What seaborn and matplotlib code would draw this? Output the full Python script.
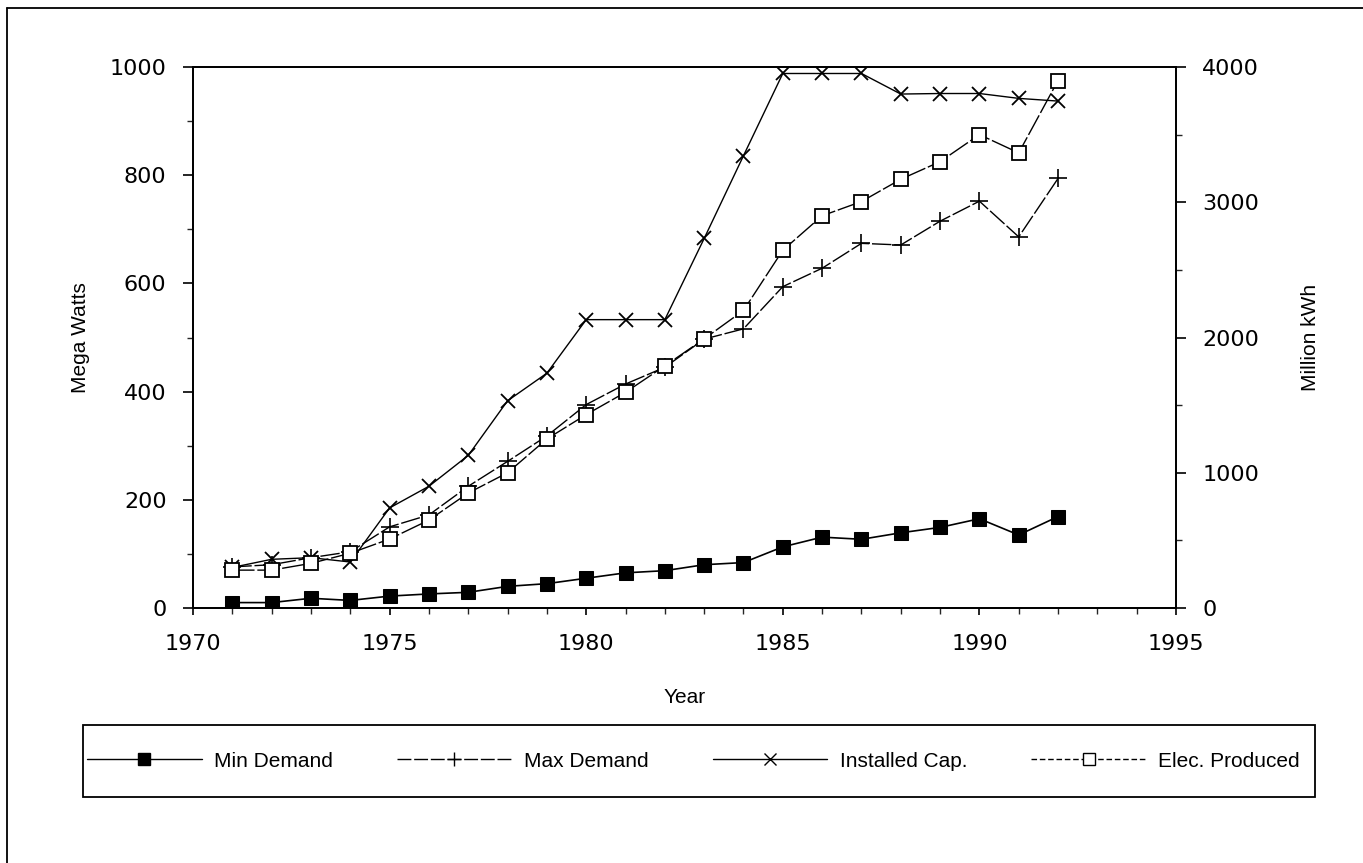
import matplotlib
matplotlib.use("Agg")
import matplotlib.pyplot as plt
import seaborn as sns
import pandas as pd
from matplotlib.ticker import MultipleLocator
from matplotlib.lines import Line2D
from matplotlib.patches import Rectangle

# data
years = list(range(1971, 1993))
min_demand = [10, 10, 18, 14, 22, 26, 29, 40, 45, 55, 65, 69, 80, 84, 113, 131, 127, 139, 149, 165, 135, 169]
max_demand = [76, 80, 93, 104, 150, 172, 225, 271, 318, 376, 414, 445, 497, 516, 594, 628, 674, 671, 715, 752, 686, 794]
installed_cap = [75, 90, 93, 85, 185, 225, 282, 383, 434, 533, 533, 533, 683, 836, 988, 988, 988, 950, 951, 951, 942, 937]
elec_produced = [280, 280, 330, 405, 510, 650, 850, 1000, 1250, 1430, 1595, 1790, 1990, 2200, 2645, 2900,
                 3005, 3170, 3300, 3500, 3365, 3900]

df = pd.DataFrame({"year": years, "min": min_demand, "max": max_demand,
                   "cap": installed_cap, "elec": elec_produced})

sns.set_theme(style="ticks")
plt.rcParams["font.family"] = ["Liberation Sans", "DejaVu Sans"]
plt.rcParams["text.color"] = "black"
plt.rcParams["axes.labelcolor"] = "black"

W, H = 1363, 863
fig = plt.figure(figsize=(W / 100, H / 100), dpi=100)
ax = fig.add_axes([193 / W, 1 - 608 / H, (1176 - 193) / W, (608 - 67) / H])
ax2 = ax.twinx()

common = dict(color="black", markeredgecolor="black")
sns.lineplot(data=df, x="year", y="min", ax=ax, lw=1.2, marker="s", markersize=10,
             markerfacecolor="black", **common)
sns.lineplot(data=df, x="year", y="max", ax=ax, lw=1.0, marker="+", markersize=13,
             markeredgewidth=1.2, linestyle=(0, (14, 2)), **common)
sns.lineplot(data=df, x="year", y="cap", ax=ax, lw=1.0, marker="x", markersize=10,
             markeredgewidth=1.3, **common)
sns.lineplot(data=df, x="year", y="elec", ax=ax2, lw=1.0, marker="s", markersize=10,
             markerfacecolor="white", markeredgewidth=1.3, linestyle=(0, (16, 2)), **common)

ax.set_xlim(1970, 1995)
ax.set_ylim(0, 1000)
ax2.set_ylim(0, 4000)

ax.xaxis.set_major_locator(MultipleLocator(5))
ax.xaxis.set_minor_locator(MultipleLocator(1))
ax.yaxis.set_major_locator(MultipleLocator(200))
ax.yaxis.set_minor_locator(MultipleLocator(100))
ax2.yaxis.set_major_locator(MultipleLocator(1000))
ax2.yaxis.set_minor_locator(MultipleLocator(500))

for a in (ax, ax2):
    a.tick_params(axis="both", which="major", direction="out", length=7, width=1.2,
                  labelsize=16, pad=12, colors="black")
    a.tick_params(axis="both", which="minor", direction="out", length=4, width=1.0)
    for lab in a.get_xticklabels() + a.get_yticklabels():
        lab.set_family("DejaVu Sans")
    for s in a.spines.values():
        s.set_visible(True)
        s.set_color("black")
        s.set_linewidth(1.3)
ax.tick_params(axis="x", which="major", length=5, pad=14)

ax.set_xlabel("Year", fontsize=15, labelpad=24)
ax.set_ylabel("Mega Watts", fontsize=15, labelpad=14)
ax2.set_ylabel("Million kWh", fontsize=15, labelpad=30)

# legend in a box below the plot
handles = [
    Line2D([], [], color="black", lw=1.0, marker="s", markersize=9, markerfacecolor="black"),
    Line2D([], [], color="black", lw=1.0, marker="+", markersize=10, linestyle=(0, (10, 2))),
    Line2D([], [], color="black", lw=1.0, marker="x", markersize=8),
    Line2D([], [], color="black", lw=1.0, marker="s", markersize=9, markerfacecolor="white",
           linestyle=(0, (4, 2))),
]
labels = ["Min Demand", "Max Demand", "Installed Cap.", "Elec. Produced"]
fig.legend(handles, labels, loc="center left", ncol=4, mode="expand",
           bbox_to_anchor=(87 / W, 1 - 761 / H, (1300 - 87) / W, 0),
           fontsize=15, handlelength=5.5, handletextpad=0.6, columnspacing=2.0,
           borderpad=0.0, borderaxespad=0.0, frameon=False)
fig.add_artist(Rectangle((83 / W, 1 - 797 / H), (1315 - 83) / W, 72 / H, transform=fig.transFigure,
                         fill=False, edgecolor="black", lw=1.3))

# scan frame, top and left edges
fig.add_artist(Line2D([7 / W, 7 / W], [0, 1 - 8 / H], color="black", lw=1.3))
fig.add_artist(Line2D([7 / W, 1], [1 - 8 / H, 1 - 8 / H], color="black", lw=1.3))

fig.savefig("out.png", dpi=100)
